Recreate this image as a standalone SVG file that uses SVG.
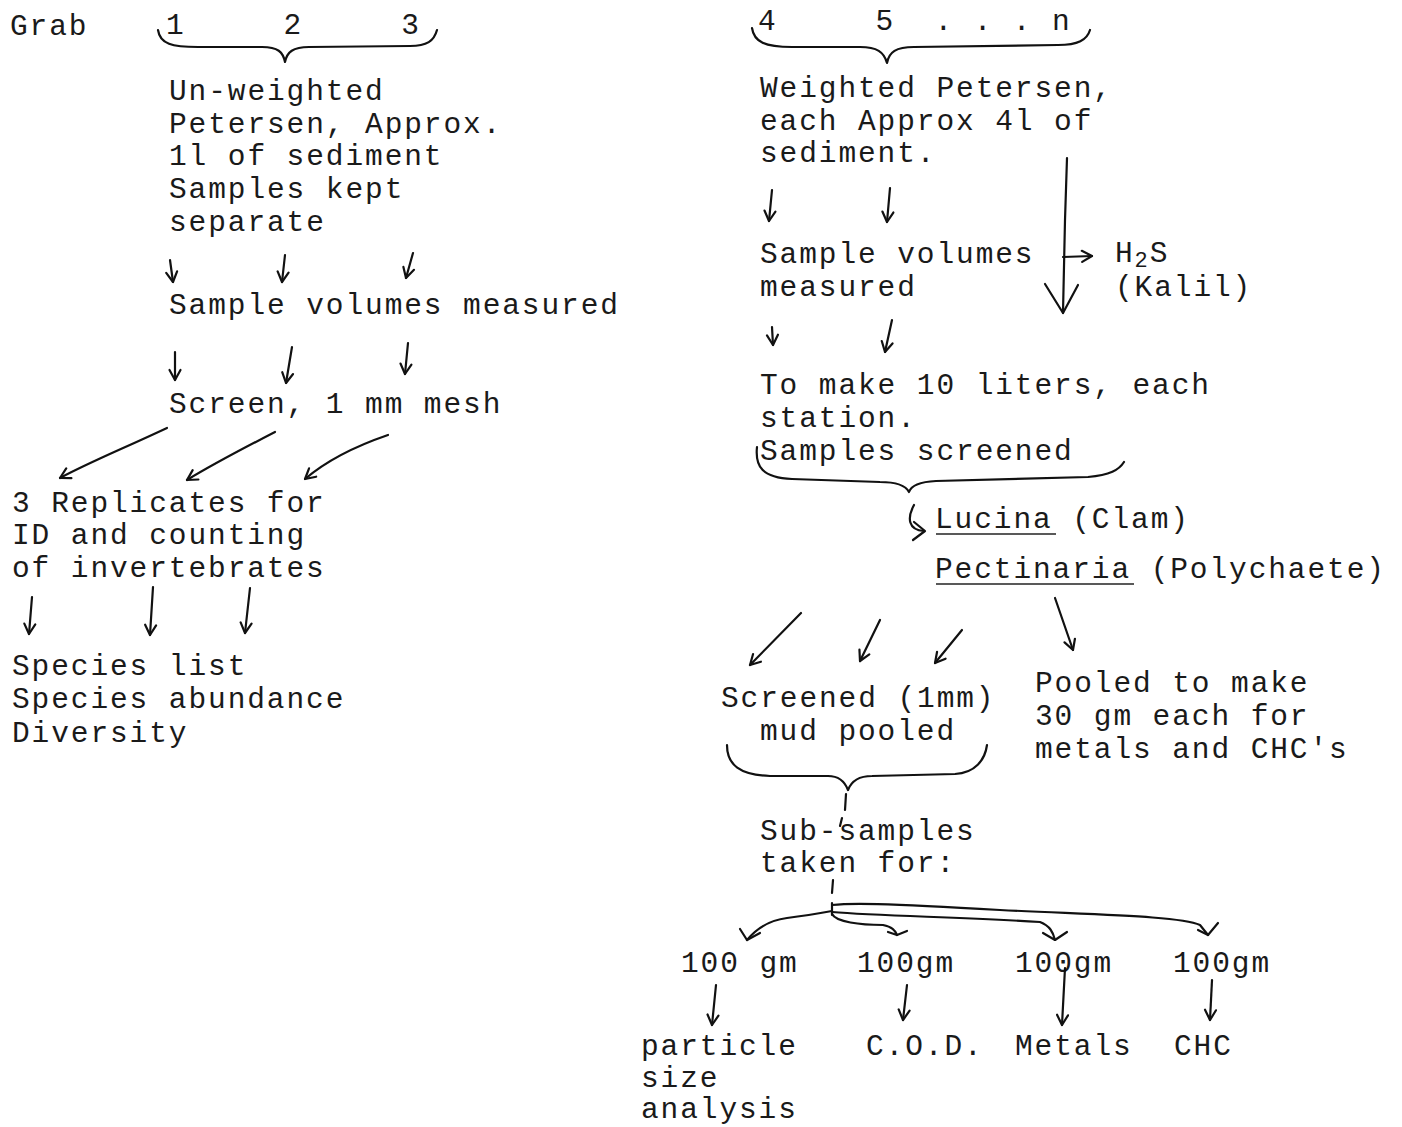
<svg xmlns="http://www.w3.org/2000/svg" width="1402" height="1127" viewBox="0 0 1402 1127">
<style>
text{font-family:"Liberation Mono","Courier New",monospace;font-size:29.5px;letter-spacing:1.9px;fill:#1a1a1a}
.ln{fill:none;stroke:#111;stroke-width:2.2;stroke-linecap:round;stroke-linejoin:round}
.ul{stroke:#222;stroke-width:1.6}
</style>
<defs>
<marker id="ah" viewBox="0 0 14 14" refX="12" refY="7" markerWidth="14" markerHeight="14" markerUnits="userSpaceOnUse" orient="auto">
<path d="M2,1.5 L12,7 L2,12.5" fill="none" stroke="#111" stroke-width="2.2" stroke-linecap="round" stroke-linejoin="round"/>
</marker>
</defs>
<rect width="1402" height="1127" fill="#fff"/>

<g id="grab"><text x="10" y="35">Grab</text></g>
<g id="grabs123"><text x="166" y="34" xml:space="preserve">1     2     3</text></g>
<g id="grabs45n"><text x="758" y="30" xml:space="preserve">4     5  . . . n</text></g>

<g id="unweighted">
<text x="169" y="100">Un-weighted</text>
<text x="169" y="133">Petersen, Approx.</text>
<text x="169" y="165">1l of sediment</text>
<text x="169" y="198">Samples kept</text>
<text x="169" y="231">separate</text>
</g>
<g id="volumes-left"><text x="169" y="314">Sample volumes measured</text></g>
<g id="screen-left"><text x="169" y="413">Screen, 1 mm mesh</text></g>
<g id="replicates">
<text x="12" y="512">3 Replicates for</text>
<text x="12" y="544">ID and counting</text>
<text x="12" y="577">of invertebrates</text>
</g>
<g id="species">
<text x="12" y="675">Species list</text>
<text x="12" y="708">Species abundance</text>
<text x="12" y="742">Diversity</text>
</g>

<g id="weighted">
<text x="760" y="97">Weighted Petersen,</text>
<text x="760" y="130">each Approx 4l of</text>
<text x="760" y="162">sediment.</text>
</g>
<g id="volumes-right">
<text x="760" y="263">Sample volumes</text>
<text x="760" y="296">measured</text>
</g>
<g id="h2s">
<text x="1115" y="262">H<tspan dy="5" font-size="22">2</tspan><tspan dy="-5">S</tspan></text>
<text x="1115" y="296">(Kalil)</text>
</g>
<g id="tenliters">
<text x="760" y="394">To make 10 liters, each</text>
<text x="760" y="427">station.</text>
<text x="760" y="460">Samples screened</text>
</g>
<g id="organisms">
<text x="935" y="528">Lucina (Clam)</text>
<line class="ul" x1="936" y1="534" x2="1056" y2="534"/>
<text x="935" y="578">Pectinaria (Polychaete)</text>
<line class="ul" x1="936" y1="584" x2="1134" y2="584"/>
</g>
<g id="mud">
<text x="721" y="707">Screened (1mm)</text>
<text x="760" y="740">mud pooled</text>
</g>
<g id="pooled">
<text x="1035" y="692">Pooled to make</text>
<text x="1035" y="725">30 gm each for</text>
<text x="1035" y="758">metals and CHC's</text>
</g>
<g id="subsamples">
<text x="760" y="840">Sub-samples</text>
<text x="760" y="872">taken for:</text>
</g>
<g id="s1"><text x="681" y="972">100 gm</text></g>
<g id="s2"><text x="857" y="972">100gm</text></g>
<g id="s3"><text x="1015" y="972">100gm</text></g>
<g id="s4"><text x="1173" y="972">100gm</text></g>
<g id="particle">
<text x="641" y="1055">particle</text>
<text x="641" y="1087">size</text>
<text x="641" y="1118">analysis</text>
</g>
<g id="cod"><text x="866" y="1055">C.O.D.</text></g>
<g id="metals"><text x="1015" y="1055">Metals</text></g>
<g id="chc"><text x="1174" y="1055">CHC</text></g>

<g id="connectors">
<path class="ln" d="M158,30 C160,44 172,47 198,47 L262,47 C278,47 283,52 285,62 C287,52 293,47 309,47 L410,46 C427,46 434,41 437,30"/>
<path class="ln" d="M752,28 C754,42 765,47 792,47 L860,47 C877,47 884,52 887,63 C889,52 896,47 914,47 L1058,45 C1078,45 1087,40 1090,30"/>
<path class="ln" d="M757,447 C755,466 762,478 792,479 L880,482 C899,482 906,486 909,492 C911,486 918,482 936,481 L1088,477 C1110,475 1119,470 1124,462"/>
<path class="ln" d="M727,745 C727,765 740,775 770,776 L828,776 C840,776 845,782 848,790 C851,782 858,776 872,776 L955,774 C975,773 985,760 987,745"/>
<path class="ln" d="M170,260 L173,282" marker-end="url(#ah)"/>
<path class="ln" d="M285,255 L282,282" marker-end="url(#ah)"/>
<path class="ln" d="M413,253 L406,278" marker-end="url(#ah)"/>
<path class="ln" d="M175,352 L175,380" marker-end="url(#ah)"/>
<path class="ln" d="M292,347 L286,383" marker-end="url(#ah)"/>
<path class="ln" d="M408,343 L405,374" marker-end="url(#ah)"/>
<path class="ln" d="M167,428 C120,450 90,462 60,478" marker-end="url(#ah)"/>
<path class="ln" d="M275,432 C240,450 210,466 187,480" marker-end="url(#ah)"/>
<path class="ln" d="M388,435 C350,448 325,462 305,479" marker-end="url(#ah)"/>
<path class="ln" d="M32,597 L29,634" marker-end="url(#ah)"/>
<path class="ln" d="M153,587 L150,635" marker-end="url(#ah)"/>
<path class="ln" d="M250,588 L245,633" marker-end="url(#ah)"/>
<path class="ln" d="M772,190 L769,221" marker-end="url(#ah)"/>
<path class="ln" d="M890,188 L887,222" marker-end="url(#ah)"/>
<path class="ln" d="M1067,158 L1065,220 L1063,313"/>
<path class="ln" d="M1045,284 L1063,313 L1078,285"/>
<path class="ln" d="M1063,257 L1092,256" marker-end="url(#ah)"/>
<path class="ln" d="M772,327 L773,345" marker-end="url(#ah)"/>
<path class="ln" d="M892,320 L885,352" marker-end="url(#ah)"/>
<path class="ln" d="M914,505 C907,518 908,530 924,531"/>
<path class="ln" d="M914,522 L925,531 L913,540"/>
<path class="ln" d="M801,613 L750,665" marker-end="url(#ah)"/>
<path class="ln" d="M880,620 L860,661" marker-end="url(#ah)"/>
<path class="ln" d="M962,630 L935,663" marker-end="url(#ah)"/>
<path class="ln" d="M1055,598 L1073,650" marker-end="url(#ah)"/>
<path class="ln" d="M846,794 L845,810 M842,818 L840,826"/>
<path class="ln" d="M833,880 L832,893"/>
<path class="ln" d="M832,903 L832,915"/>
<path class="ln" d="M832,905 C850,903 880,903 1000,910 C1100,915 1180,916 1200,925 L1208,935"/>
<path class="ln" d="M1198,930 L1208,935 L1218,923"/>
<path class="ln" d="M832,912 C880,916 960,917 1040,922 C1050,926 1053,932 1055,940"/>
<path class="ln" d="M1043,933 L1055,940 L1067,932"/>
<path class="ln" d="M832,914 C836,922 860,925 883,925 C892,927 895,930 897,935"/>
<path class="ln" d="M888,932 L897,935 L907,931"/>
<path class="ln" d="M832,911 C810,915 795,917 787,918 C770,920 757,928 747,940"/>
<path class="ln" d="M740,929 L747,940 L760,933"/>
<path class="ln" d="M716,985 L712,1025" marker-end="url(#ah)"/>
<path class="ln" d="M907,985 L903,1020" marker-end="url(#ah)"/>
<path class="ln" d="M1065,968 L1062,1025" marker-end="url(#ah)"/>
<path class="ln" d="M1212,980 L1210,1020" marker-end="url(#ah)"/>
</g>
</svg>
